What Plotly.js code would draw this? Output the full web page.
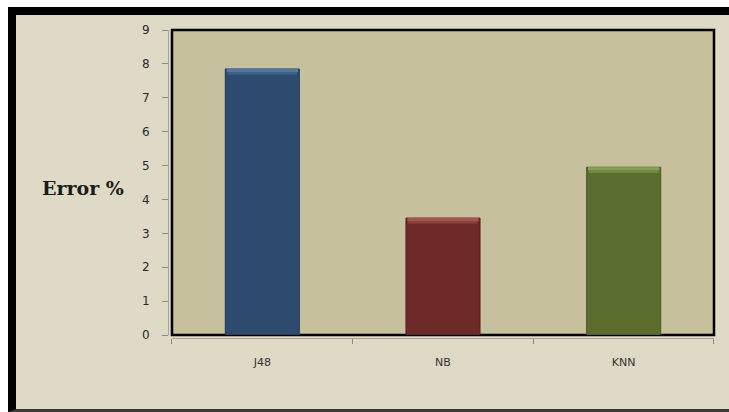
<!DOCTYPE html>
<html>
<head>
<meta charset="utf-8">
<script src="https://cdn.plot.ly/plotly-3.0.1.min.js"></script>
<style>
  html, body { margin: 0; padding: 0; background: #ffffff; width: 729px; height: 412px; overflow: hidden; }
  #frame {
    position: absolute; left: 8px; top: 7px; width: 721px; height: 405px;
    box-sizing: border-box;
    border-left: 8px solid #000; border-top: 8px solid #000; border-bottom: 3px solid #3a3a3a;
    background: #dfdac6;
  }
  #chart { width: 713px; height: 394px; }
</style>
</head>
<body>
<div id="frame"><div id="chart"></div></div>
<script>
// Classifier error rates
const classifiers = ['J48', 'NB', 'KNN'];
const errorPct = [7.85, 3.45, 4.95];
const barColors = ['#2d4a6f', '#6d2a28', '#5a6d2d'];
const edgeColors = ['#223a58', '#57211f', '#475724'];
const bevelColors = ['#5677a0', '#a0554f', '#86a05a'];
const midColors = ['#3e5e86', '#86403b', '#6f8740'];
const yTicks = [0, 1, 2, 3, 4, 5, 6, 7, 8, 9];

// lighter bevel strips on top of each bar, in data units
const bevel = 0.09;
const bevelMid = 0.17;

const bars = {
  type: 'bar',
  x: classifiers,
  y: errorPct,
  width: 0.41,
  marker: { color: barColors, line: { color: edgeColors, width: 1 } },
  hoverinfo: 'x+y'
};

const midStrip = {
  type: 'bar',
  x: classifiers,
  y: errorPct.map(() => bevelMid),
  base: errorPct.map(v => v - bevelMid),
  width: 0.385,
  marker: { color: midColors, line: { width: 0 } },
  hoverinfo: 'skip'
};

const tops = {
  type: 'bar',
  x: classifiers,
  y: errorPct.map(() => bevel),
  base: errorPct.map(v => v - bevel),
  width: 0.395,
  marker: { color: bevelColors, line: { width: 0 } },
  hoverinfo: 'skip'
};

const layout = {
  width: 713,
  height: 394,
  margin: { l: 152, r: 15, t: 15, b: 71 },
  paper_bgcolor: '#dfdac6',
  plot_bgcolor: '#c7c09d',
  barmode: 'overlay',
  showlegend: false,
  xaxis: {
    type: 'category',
    domain: [0.0073, 1],
    anchor: 'free',
    position: 0,
    showline: true,
    linecolor: '#a5a5a0',
    linewidth: 1,
    ticks: 'outside',
    tickson: 'boundaries',
    ticklen: 5,
    tickcolor: '#8a8a8a',
    tickfont: { family: 'DejaVu Sans, Verdana, sans-serif', size: 11, color: '#333333' },
    ticklabelstandoff: 14,
    showgrid: false,
    zeroline: false,
    fixedrange: true
  },
  yaxis: {
    range: [0, 9],
    domain: [0.0097, 1],
    anchor: 'free',
    position: 0,
    tickvals: yTicks,
    ticktext: yTicks.map(String),
    showline: true,
    linecolor: '#a5a5a0',
    linewidth: 1,
    ticks: 'outside',
    ticklen: 6,
    tickcolor: '#8a8a8a',
    tickfont: { family: 'DejaVu Sans, Verdana, sans-serif', size: 12, color: '#2a2a2a' },
    ticklabelstandoff: 10,
    showgrid: false,
    zeroline: false,
    fixedrange: true
  },
  shapes: [{
    type: 'rect', xref: 'x domain', yref: 'y domain',
    x0: 0, x1: 1, y0: 0, y1: 1,
    line: { color: '#000000', width: 2.5 },
    layer: 'below'
  }],
  annotations: [{
    text: '<b>Error %</b>',
    xref: 'paper', yref: 'paper',
    x: 0, y: 0.487, xanchor: 'center', yanchor: 'middle',
    xshift: -85,
    showarrow: false,
    font: { family: 'DejaVu Serif, Liberation Serif, serif', size: 19, color: '#1a1a1a' }
  }]
};

Plotly.newPlot('chart', [bars, midStrip, tops], layout, { displayModeBar: false, staticPlot: true });
</script>
</body>
</html>
